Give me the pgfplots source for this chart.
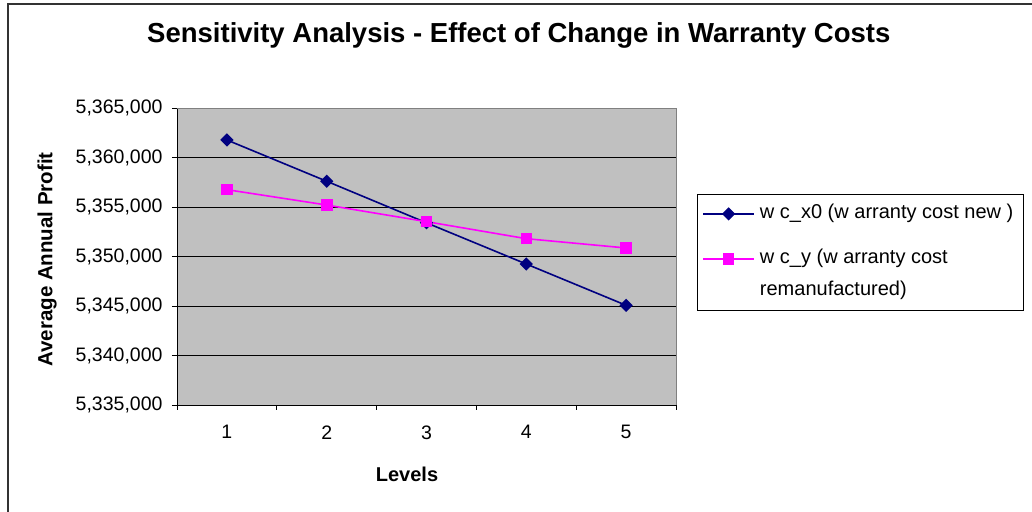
\documentclass[border=0pt]{standalone}
\usepackage{fontspec}
\setmainfont{Liberation Sans}
\usepackage{pgfplots}
\pgfplotsset{compat=1.18}
\definecolor{plotgray}{HTML}{C0C0C0}
\definecolor{navyline}{HTML}{000080}
\definecolor{magline}{HTML}{FF00FF}

\begin{document}
\begin{tikzpicture}
\useasboundingbox (0,0) rectangle (1032bp,512bp);
\draw[line width=2bp, black!80] (8bp,0) -- (8bp,508bp) -- (1032bp,508bp);
\begin{axis}[
  at={(177bp,107bp)}, anchor=south west,
  scale only axis, width=499bp, height=297bp, clip=false,
  xmin=0.5, xmax=5.5, ymin=5335000, ymax=5365000,
  axis x line*=bottom, axis y line*=left,
  axis background/.style={fill=plotgray},
  xtick={0.5,1.5,2.5,3.5,4.5,5.5}, xticklabels={1,2,3,4,5,{}},
  xticklabel style={xshift=49.9bp, yshift=-12bp},
  ytick={5335000,5340000,5345000,5350000,5355000,5360000,5365000},
  yticklabel style={xshift=-6bp},
  ymajorgrids, major grid style={black, line width=0.8bp},
  tick align=outside, major tick length=5bp,
  tick style={black, line width=0.8bp},
  axis line style={black, line width=0.8bp},
  scaled y ticks=false,
  /pgf/number format/.cd, fixed, 1000 sep={,}, assume math mode=true, /pgfplots/.cd,
  tick label style={font=\fontsize{19.5bp}{23bp}\selectfont},
  title={Sensitivity Analysis - Effect of Change in Warranty Costs},
  title style={at={(axis description cs:0.685,1.2256)}, anchor=center, font=\bfseries\fontsize{27.5bp}{32bp}\selectfont},
  xlabel={Levels},
  xlabel style={at={(axis description cs:0.461,-0.232)}, anchor=center, font=\bfseries\fontsize{20bp}{24bp}\selectfont},
  ylabel={Average Annual Profit},
  ylabel style={at={(axis description cs:-0.2605,0.49)}, anchor=center, font=\bfseries\fontsize{20.5bp}{24bp}\selectfont},
  legend cell align=left,
  legend image code/.code={\draw[mark repeat=2,mark phase=2,#1] plot coordinates {(0bp,0bp) (25.5bp,0bp) (51bp,0bp)};},
  legend style={at={(axis description cs:1.042,0.7104)}, anchor=north west, draw=black, line width=0.8bp, fill=white,
    font=\fontsize{20bp}{24bp}\selectfont, row sep=12bp, inner xsep=5bp, inner ysep=9.5bp,
    nodes={text height=13bp, text depth=4bp, inner ysep=1.5bp, inner xsep=5bp}},
]
\addplot[navyline, line width=1.6bp, mark=square*, mark size=3.9bp, mark options={rotate=45, solid, fill=navyline}]
  coordinates {(1,5361770) (2,5357600) (3,5353400) (4,5349240) (5,5345070)};
\addlegendentry{w c\_x0 (w arranty cost new )}
\addlegendimage{empty legend}
\addlegendentry[text height=0bp, text depth=0bp, inner ysep=0bp]{\hphantom{x}}
\addplot[magline, line width=1.6bp, mark=square*, mark size=5bp, mark options={solid, fill=magline}]
  coordinates {(1,5356750) (2,5355200) (3,5353520) (4,5351800) (5,5350860)};
\addlegendentry{w c\_y (w arranty cost}
\addlegendimage{empty legend}
\addlegendentry{remanufactured)}
\draw[gray, line width=0.8bp] (rel axis cs:0,1) -- (rel axis cs:1,1) -- (rel axis cs:1,0);
\end{axis}
\end{tikzpicture}
\end{document}
